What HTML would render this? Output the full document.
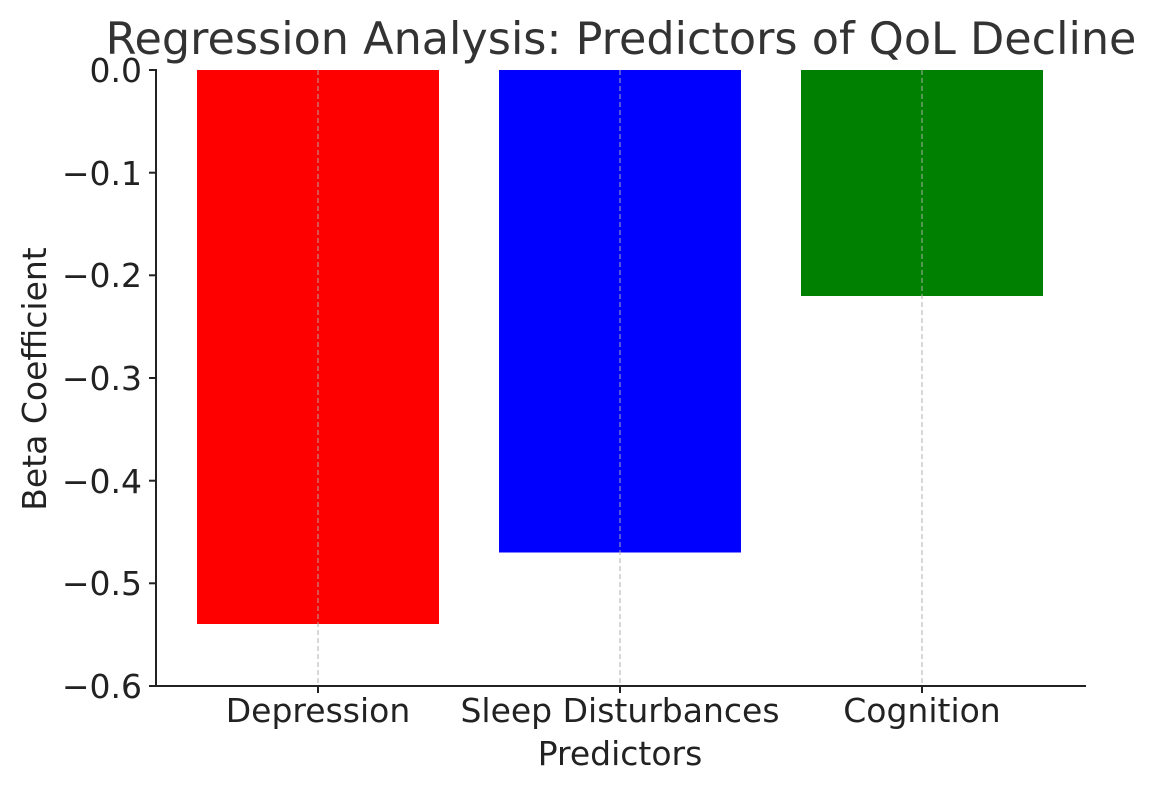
<!DOCTYPE html>
<html><head><meta charset="utf-8"><style>
html,body{margin:0;padding:0;background:#fff;}
svg{display:block;}
text{font-family:"DejaVu Sans","Liberation Sans",sans-serif;fill:#222;}
</style></head><body>
<svg width="1155" height="793" viewBox="0 0 1155 793" xmlns="http://www.w3.org/2000/svg">
<rect width="1155" height="793" fill="#fff"/>
<rect x="197" y="70" width="242" height="554" fill="#ff0000"/>
<rect x="499" y="70" width="242" height="482.5" fill="#0000ff"/>
<rect x="801" y="70" width="242" height="226" fill="#008000"/>
<g stroke="#b0b0b0" stroke-width="1.2" stroke-dasharray="5,3" opacity="0.8">
<line x1="318" y1="70" x2="318" y2="686"/>
<line x1="620" y1="70" x2="620" y2="686"/>
<line x1="922" y1="70" x2="922" y2="686"/>
</g>
<g stroke="#222" stroke-width="2">
<line x1="156" y1="69" x2="156" y2="687"/>
<line x1="155" y1="686" x2="1086" y2="686"/>
<line x1="149" y1="70" x2="156" y2="70"/>
<line x1="149" y1="172.7" x2="156" y2="172.7"/>
<line x1="149" y1="275.3" x2="156" y2="275.3"/>
<line x1="149" y1="378" x2="156" y2="378"/>
<line x1="149" y1="480.7" x2="156" y2="480.7"/>
<line x1="149" y1="583.3" x2="156" y2="583.3"/>
<line x1="149" y1="686" x2="156" y2="686"/>
<line x1="318" y1="686" x2="318" y2="693"/>
<line x1="620" y1="686" x2="620" y2="693"/>
<line x1="922" y1="686" x2="922" y2="693"/>
</g>
<g font-size="33" text-anchor="end">
<text x="142" y="82">0.0</text>
<text x="142" y="185">−0.1</text>
<text x="142" y="287">−0.2</text>
<text x="142" y="390">−0.3</text>
<text x="142" y="493">−0.4</text>
<text x="142" y="595">−0.5</text>
<text x="142" y="698">−0.6</text>
</g>
<g font-size="33" text-anchor="middle">
<text x="318" y="722">Depression</text>
<text x="620" y="722">Sleep Disturbances</text>
<text x="922" y="722">Cognition</text>
<text x="620" y="765">Predictors</text>
</g>
<text font-size="33" text-anchor="middle" transform="translate(46,379) rotate(-90)">Beta Coefficient</text>
<text x="621" y="54" font-size="44.5" text-anchor="middle" style="fill:#333">Regression Analysis: Predictors of QoL Decline</text>
</svg>
</body></html>
